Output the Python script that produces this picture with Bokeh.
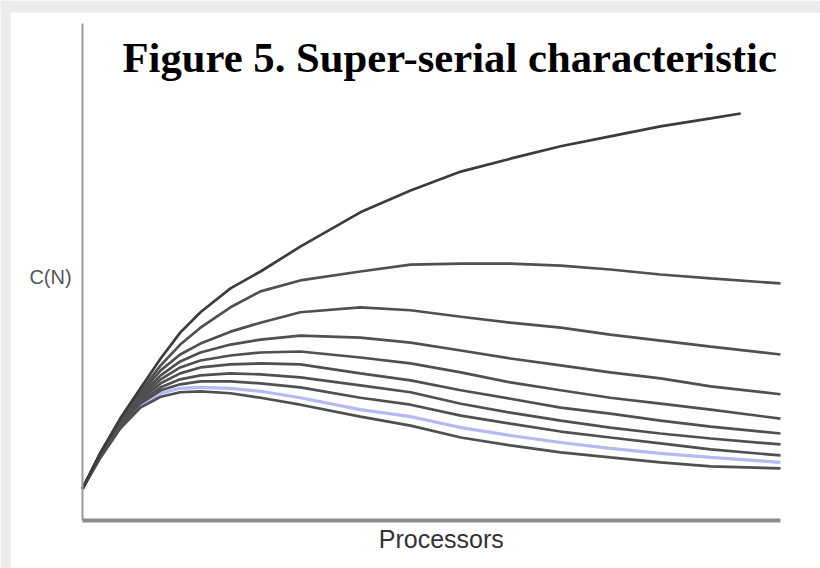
from bokeh.plotting import figure
from bokeh.models import Range1d, Label, FixedTicker, LinearAxis, BoxAnnotation
from bokeh.embed import file_html
from bokeh.resources import INLINE

# Processors (relative scale, 0..100 across the axis)
processors = [0, 2.6, 5.4, 8.3, 11.2, 14.0, 16.9, 21.2, 25.5, 31.2,
              39.8, 47.0, 54.2, 61.3, 68.5, 75.6, 82.8, 90.0, 100.0]
processors_top = [0, 2.6, 5.4, 8.3, 11.2, 14.0, 16.9, 21.2, 25.5, 31.2,
                  39.8, 47.0, 54.2, 61.3, 68.5, 75.6, 82.8, 90.0, 94.3]

# Capacity C(N) curves (relative scale 0..100)
c1 = [6.4, 13.7, 20.5, 26.6, 32.6, 37.8, 41.9, 46.7, 50.1, 55.1, 62.0, 66.4, 70.2, 72.8, 75.3, 77.3, 79.3, 80.9, 81.9]
c2 = [6.4, 13.7, 20.3, 26.0, 31.2, 35.4, 38.8, 42.9, 46.1, 48.3, 50.1, 51.5, 51.7, 51.7, 51.3, 50.5, 49.5, 48.7, 47.7]
c3 = [6.4, 13.5, 20.1, 25.6, 30.2, 33.4, 35.6, 38.0, 39.8, 41.9, 42.9, 42.3, 41.0, 39.8, 38.8, 37.4, 36.2, 35.0, 33.4]
c4 = [6.4, 13.5, 19.9, 25.2, 29.2, 32.0, 33.8, 35.4, 36.4, 37.2, 36.8, 35.8, 34.2, 32.6, 31.2, 29.8, 28.6, 27.0, 25.4]
c5 = [6.4, 13.3, 19.7, 24.7, 28.4, 30.8, 32.2, 33.2, 33.8, 34.0, 32.8, 31.6, 29.8, 27.8, 26.2, 24.7, 23.5, 22.3, 20.5]
c6 = [6.4, 13.3, 19.5, 24.3, 27.6, 29.6, 30.8, 31.4, 31.6, 31.4, 29.6, 28.2, 26.2, 24.5, 22.7, 21.5, 20.1, 18.9, 17.5]
c7 = [6.4, 13.1, 19.3, 23.9, 26.8, 28.4, 29.2, 29.6, 29.4, 28.8, 27.2, 25.8, 23.5, 21.7, 20.1, 18.7, 17.5, 16.5, 15.3]
c8 = [6.4, 13.1, 19.1, 23.5, 26.2, 27.4, 28.0, 28.0, 27.6, 26.8, 24.7, 23.3, 21.1, 19.5, 17.9, 16.7, 15.5, 14.3, 13.1]
c9_blue = [6.4, 12.9, 18.7, 23.1, 25.6, 26.6, 26.8, 26.6, 26.0, 24.7, 22.3, 20.9, 18.7, 17.1, 15.7, 14.5, 13.5, 12.7, 11.7]
c10 = [6.4, 12.7, 18.5, 22.7, 24.9, 25.8, 26.0, 25.6, 24.7, 23.3, 20.9, 19.1, 16.7, 15.1, 13.7, 12.7, 11.7, 10.9, 10.5]

title_text = "Figure 5. Super-serial characteristic"
x_label = "Processors"
y_label = "C(N)"

p = figure(width=820, height=568, output_backend="svg", toolbar_location=None,
           x_range=Range1d(-11.748, 105.731), y_range=Range1d(-9.658, 104.628),
           x_axis_location=None, y_axis_location=None,
           min_border_left=0, min_border_right=0, min_border_top=0, min_border_bottom=0)
p.background_fill_color = "white"
p.border_fill_color = "white"
p.outline_line_color = None
p.grid.visible = False

# page-like grey edges
p.add_layout(BoxAnnotation(bottom=102.2, fill_color="#ececec", fill_alpha=1.0, line_color=None, level="underlay"))
p.add_layout(BoxAnnotation(right=-10.3, fill_color="#ececec", fill_alpha=1.0, line_color=None, level="underlay"))

def bare_axis(color, width):
    ax = LinearAxis(fixed_location=0, bounds=(0, 100), ticker=FixedTicker(ticks=[]))
    ax.major_tick_line_color = None
    ax.minor_tick_line_color = None
    ax.major_tick_out = 0
    ax.major_tick_in = 0
    ax.major_label_text_font_size = "0px"
    ax.major_label_standoff = 0
    ax.axis_line_color = color
    ax.axis_line_width = width
    return ax

p.add_layout(bare_axis("#8c8c8c", 4), "below")
p.add_layout(bare_axis("#9a9a9a", 2), "left")

p.line(processors, c9_blue, line_color="#b8b8f2", line_width=3.2)
for ys in (c10, c8, c7, c6, c5, c4, c3, c2):
    p.line(processors, ys, line_color="#505050", line_width=2.7)
p.line(processors_top, c1, line_color="#3c3c3c", line_width=2.7)

p.add_layout(Label(x=5.73, y=93.2, text=title_text, text_font="Liberation Serif",
                   text_font_style="bold", text_font_size="42.7px", text_color="black",
                   text_baseline="alphabetic", text_align="left"))
p.add_layout(Label(x=51.4, y=-3.8, text=x_label, text_font="Liberation Sans",
                   text_font_size="25px", text_color="#333333",
                   text_baseline="alphabetic", text_align="center"))
p.add_layout(Label(x=-4.58, y=48.9, text=y_label, text_font="Liberation Sans",
                   text_font_size="20px", text_color="#555555",
                   text_baseline="middle", text_align="center"))

open("out.html", "w").write(file_html(p, INLINE))
